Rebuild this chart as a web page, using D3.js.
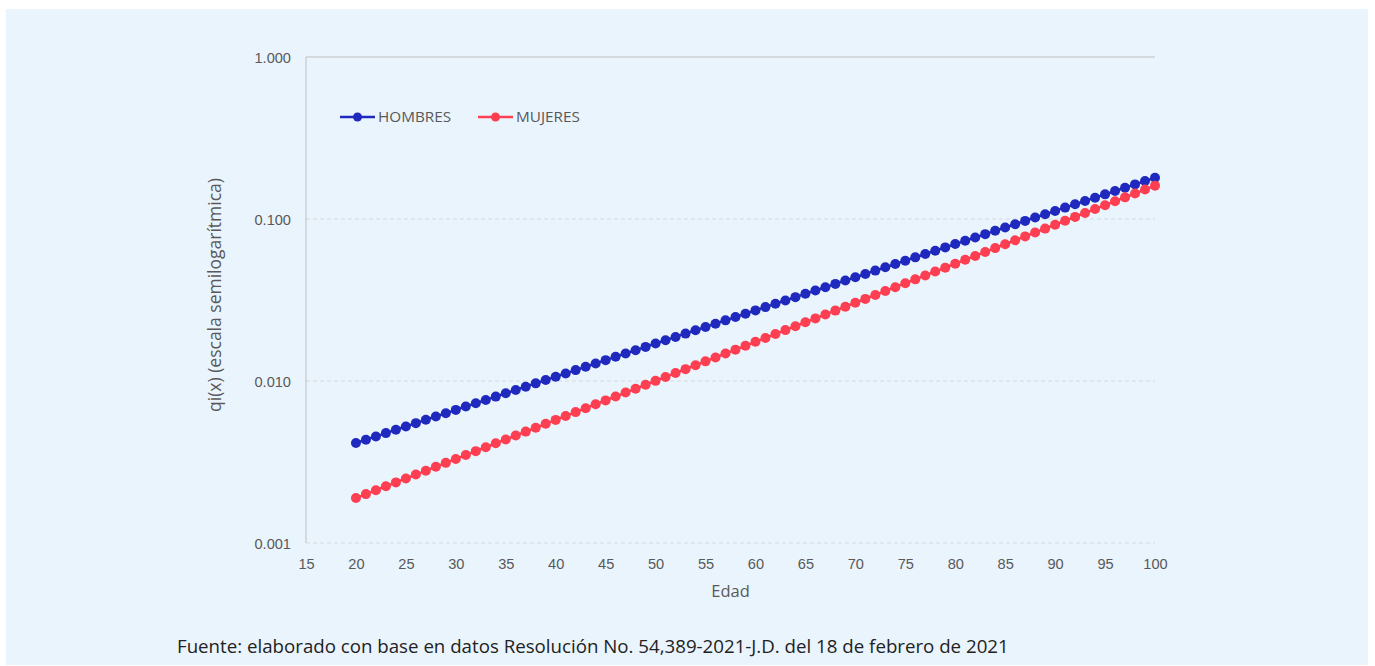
<!DOCTYPE html>
<html>
<head>
<meta charset="utf-8">
<script src="https://cdn.jsdelivr.net/npm/d3@7"></script>
<style>
  html, body { margin: 0; padding: 0; background: #ffffff; }
  svg { display: block; font-family: "Open Sans", "Noto Sans", sans-serif; }
</style>
</head>
<body>
<svg id="chart" width="1375" height="666"></svg>
<script>
// Edades (años)
const ages = d3.range(20, 101);

// Probabilidad de muerte qi(x), hombres
const hombres = [
  0.004140, 0.004340, 0.004549, 0.004769, 0.004999, 0.005240, 0.005493, 0.005758, 0.006036, 0.006327,
  0.006633, 0.006953, 0.007288, 0.007640, 0.008009, 0.008395, 0.008800, 0.009225, 0.009670, 0.010137,
  0.010626, 0.011139, 0.011677, 0.012240, 0.012831, 0.013450, 0.014099, 0.014780, 0.015493, 0.016241,
  0.017024, 0.017846, 0.018707, 0.019610, 0.020556, 0.021548, 0.022588, 0.023678, 0.024821, 0.026019,
  0.027275, 0.028591, 0.029971, 0.031417, 0.032933, 0.034523, 0.036189, 0.037935, 0.039766, 0.041685,
  0.043697, 0.045806, 0.048016, 0.050334, 0.052763, 0.055309, 0.057978, 0.060776, 0.063709, 0.066784,
  0.070007, 0.073386, 0.076927, 0.080640, 0.084531, 0.088611, 0.092887, 0.097370, 0.102069, 0.106995,
  0.112158, 0.117571, 0.123245, 0.129193, 0.135428, 0.141964, 0.148815, 0.155997, 0.163525, 0.171417,
  0.179689
];

// Probabilidad de muerte qi(x), mujeres
const mujeres = [
  0.001896, 0.002004, 0.002119, 0.002240, 0.002367, 0.002502, 0.002645, 0.002796, 0.002956, 0.003124,
  0.003303, 0.003491, 0.003690, 0.003901, 0.004123, 0.004359, 0.004607, 0.004870, 0.005148, 0.005442,
  0.005752, 0.006081, 0.006428, 0.006794, 0.007182, 0.007592, 0.008025, 0.008483, 0.008967, 0.009479,
  0.010019, 0.010591, 0.011195, 0.011834, 0.012509, 0.013223, 0.013978, 0.014775, 0.015618, 0.016510,
  0.017452, 0.018447, 0.019500, 0.020613, 0.021789, 0.023032, 0.024346, 0.025736, 0.027204, 0.028756,
  0.030397, 0.032132, 0.033965, 0.035903, 0.037952, 0.040117, 0.042406, 0.044826, 0.047384, 0.050087,
  0.052945, 0.055967, 0.059160, 0.062536, 0.066104, 0.069876, 0.073863, 0.078078, 0.082533, 0.087242,
  0.092220, 0.097482, 0.103044, 0.108924, 0.115139, 0.121709, 0.128654, 0.135995, 0.143755, 0.151957,
  0.160628
];

const xTicks = d3.range(15, 101, 5);
const yTicks = [0.001, 0.01, 0.1, 1];
const yTickLabels = ["0.001", "0.010", "0.100", "1.000"];

const seriesNames = ["HOMBRES", "MUJERES"];
const seriesColors = ["#1f29be", "#fe3e51"];

const svg = d3.select("#chart");

// Fondo del panel
svg.append("rect")
  .attr("x", 6).attr("y", 9)
  .attr("width", 1362).attr("height", 656)
  .attr("fill", "#eaf4fd");

const plot = { left: 306, right: 1155, top: 57, bottom: 543 };

const x = d3.scaleLinear().domain([15, 100]).range([plot.left, plot.right]);
const y = d3.scaleLog().domain([0.001, 1]).range([plot.bottom, plot.top]);

// Líneas de cuadrícula horizontales
svg.append("g")
  .selectAll("line")
  .data(yTicks.filter(d => d < 1))
  .join("line")
  .attr("x1", plot.left).attr("x2", plot.right)
  .attr("y1", d => y(d)).attr("y2", d => y(d))
  .attr("stroke", "#d6d9dc")
  .attr("stroke-width", 1)
  .attr("stroke-dasharray", "4,3");

// Marco: borde superior e izquierdo
svg.append("line")
  .attr("x1", plot.left).attr("x2", plot.right)
  .attr("y1", plot.top).attr("y2", plot.top)
  .attr("stroke", "#bfbfbf").attr("stroke-width", 1);
svg.append("line")
  .attr("x1", plot.left).attr("x2", plot.left)
  .attr("y1", plot.top).attr("y2", plot.bottom)
  .attr("stroke", "#bfbfbf").attr("stroke-width", 1);

// Eje Y (escala logarítmica)
const yAxis = d3.axisLeft(y)
  .tickValues(yTicks)
  .tickFormat((d, i) => yTickLabels[i])
  .tickSize(0)
  .tickPadding(15);
const gy = svg.append("g").attr("transform", `translate(${plot.left},0)`).call(yAxis);
gy.select(".domain").remove();
gy.selectAll("text")
  .attr("fill", "#595959")
  .style("font-size", "14.6px")
  .attr("dy", "0.35em");

// Eje X
const xAxis = d3.axisBottom(x)
  .tickValues(xTicks)
  .tickSize(0)
  .tickPadding(16);
const gx = svg.append("g").attr("transform", `translate(0,${plot.bottom})`).call(xAxis);
gx.select(".domain").remove();
gx.selectAll("text")
  .attr("fill", "#595959")
  .style("font-size", "14.6px");

// Títulos de ejes
svg.append("text")
  .attr("x", (plot.left + plot.right) / 2)
  .attr("y", 597)
  .attr("text-anchor", "middle")
  .attr("fill", "#595959")
  .style("font-size", "16.5px")
  .text("Edad");

svg.append("text")
  .attr("transform", `translate(221,${(plot.top + plot.bottom) / 2 - 5}) rotate(-90)`)
  .attr("text-anchor", "middle")
  .attr("fill", "#595959")
  .style("font-size", "17.5px")
  .text("qi(x) (escala semilogarítmica)");

// Series
const series = [hombres, mujeres];
const line = d3.line()
  .x((d, i) => x(ages[i]))
  .y(d => y(d));

series.forEach((values, s) => {
  const g = svg.append("g");
  g.append("path")
    .datum(values)
    .attr("d", line)
    .attr("fill", "none")
    .attr("stroke", seriesColors[s])
    .attr("stroke-width", 2.5);
  g.selectAll("circle")
    .data(values)
    .join("circle")
    .attr("cx", (d, i) => x(ages[i]))
    .attr("cy", d => y(d))
    .attr("r", 5)
    .attr("fill", seriesColors[s]);
});

// Leyenda
const legendX = [340, 478];
seriesNames.forEach((name, s) => {
  const g = svg.append("g").attr("transform", `translate(${legendX[s]},117)`);
  g.append("line")
    .attr("x1", 0).attr("x2", 35)
    .attr("y1", 0).attr("y2", 0)
    .attr("stroke", seriesColors[s]).attr("stroke-width", 2.5);
  g.append("circle")
    .attr("cx", 17.5).attr("cy", 0).attr("r", 4.5)
    .attr("fill", seriesColors[s]);
  g.append("text")
    .attr("x", 38).attr("y", 0)
    .attr("dy", "0.35em")
    .attr("fill", "#595959")
    .style("font-size", "15.3px")
    .text(name);
});

// Fuente
svg.append("text")
  .attr("x", 177)
  .attr("y", 653)
  .attr("fill", "#222222")
  .style("font-size", "18.7px")
  .text("Fuente: elaborado con base en datos Resolución No. 54,389-2021-J.D. del 18 de febrero de 2021");
</script>
</body>
</html>
